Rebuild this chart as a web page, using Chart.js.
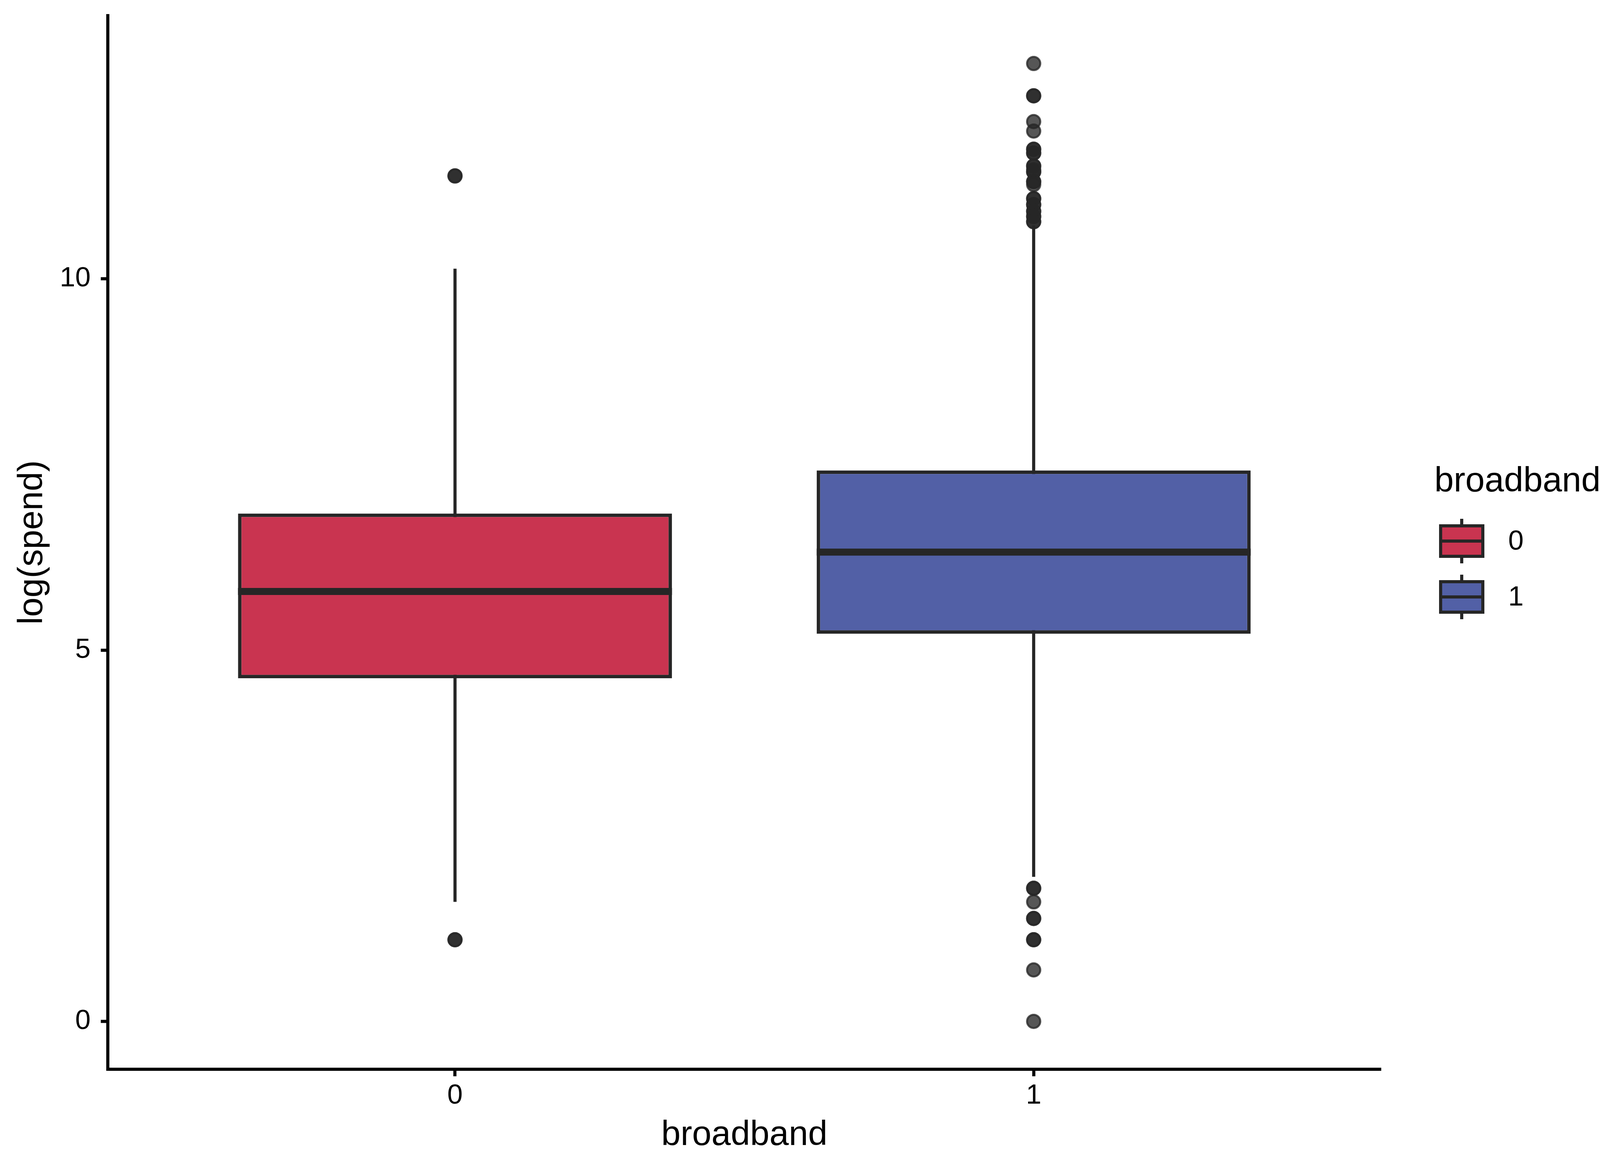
<!DOCTYPE html>
<html>
<head>
<meta charset="utf-8">
<script src="https://cdn.jsdelivr.net/npm/chart.js@4.4.1/dist/chart.umd.min.js"></script>
<style>html,body{margin:0;padding:0;background:#fff;}canvas{display:block;}</style>
</head>
<body>
<canvas id="c" width="4200" height="3000" style="width:4200px;height:3000px"></canvas>
<script>
// ---- data (log(spend) by broadband) ----
const categories = [0, 1];
const categoryLabels = ['0', '1'];
const q1 = [4.62, 5.22];
const medians = [5.79, 6.32];
const q3 = [6.84, 7.42];
const whiskerLow = [1.609, 1.946];
const whiskerHigh = [10.137, 10.72];
const outliers0 = [11.386, 11.386, 1.099, 1.099];
const outliers1 = [12.90, 12.465, 12.465, 12.118, 11.99, 11.745, 11.745, 11.694, 11.694,
  11.52, 11.52, 11.47, 11.44, 11.44, 11.31, 11.31, 11.27, 11.08, 11.08, 11.0, 11.0,
  10.91, 10.91, 10.84, 10.84, 10.77, 10.77,
  1.792, 1.792, 1.609, 1.386, 1.386, 1.099, 1.099, 0.693, 0.0];
const yTicks = [0, 5, 10];
const xTitle = 'broadband';
const yTitle = 'log(spend)';
const legendTitle = 'broadband';
const fillColors = ['#C93450', '#5260A6'];

const FONT = "'Liberation Sans', Arial, Helvetica, sans-serif";
const DARK = '#262626';

const outlierPoints = [];
outliers0.forEach(v => outlierPoints.push({x: categories[0], y: v}));
outliers1.forEach(v => outlierPoints.push({x: categories[1], y: v}));

const boxParts = {
  id: 'boxParts',
  beforeDatasetsDraw(chart) {
    const ctx = chart.ctx, xs = chart.scales.x, ys = chart.scales.y;
    ctx.save();
    ctx.strokeStyle = DARK;
    ctx.lineWidth = 8;
    ctx.lineCap = 'butt';
    categories.forEach((c, i) => {
      const px = xs.getPixelForValue(c);
      ctx.beginPath();
      ctx.moveTo(px, ys.getPixelForValue(whiskerLow[i]));
      ctx.lineTo(px, ys.getPixelForValue(whiskerHigh[i]));
      ctx.stroke();
    });
    ctx.restore();
  },
  afterDatasetsDraw(chart) {
    const ctx = chart.ctx, ys = chart.scales.y;
    const meta = chart.getDatasetMeta(1);
    ctx.save();
    ctx.strokeStyle = DARK;
    ctx.lineWidth = 18;
    ctx.lineCap = 'butt';
    categories.forEach((c, i) => {
      const bar = meta.data[i];
      const {x, width} = bar.getProps(['x', 'width'], true);
      const py = ys.getPixelForValue(medians[i]);
      ctx.beginPath();
      ctx.moveTo(x - width / 2, py);
      ctx.lineTo(x + width / 2, py);
      ctx.stroke();
    });
    ctx.restore();
  },
  afterDraw(chart) {
    const ctx = chart.ctx;
    ctx.save();
    ctx.fillStyle = '#000';
    ctx.font = `89px ${FONT}`;
    ctx.textAlign = 'left';
    ctx.textBaseline = 'alphabetic';
    ctx.fillText(legendTitle, 3672, 1258);
    const keyLeft = 3688, keyW = 108, keyH = 78;
    const centers = [1385, 1528];
    categoryLabels.forEach((lab, i) => {
      const cy = centers[i];
      const cx = keyLeft + keyW / 2;
      ctx.strokeStyle = DARK;
      ctx.lineWidth = 8;
      ctx.beginPath();
      ctx.moveTo(cx, cy - 57);
      ctx.lineTo(cx, cy + 57);
      ctx.stroke();
      ctx.fillStyle = fillColors[i];
      ctx.fillRect(keyLeft, cy - keyH / 2, keyW, keyH);
      ctx.strokeRect(keyLeft, cy - keyH / 2, keyW, keyH);
      ctx.beginPath();
      ctx.moveTo(keyLeft, cy);
      ctx.lineTo(keyLeft + keyW, cy);
      ctx.stroke();
      ctx.fillStyle = '#000';
      ctx.font = `71px ${FONT}`;
      ctx.textBaseline = 'middle';
      ctx.fillText(lab, 3861, cy + 2);
    });
    ctx.restore();
  }
};

new Chart(document.getElementById('c'), {
  type: 'bar',
  data: {
    datasets: [
      {
        type: 'scatter',
        order: 0,
        data: outlierPoints,
        pointRadius: 17,
        pointHoverRadius: 17,
        backgroundColor: 'rgba(38,38,38,0.78)',
        borderColor: 'rgba(38,38,38,0.78)',
        borderWidth: 5
      },
      {
        type: 'bar',
        order: 1,
        data: categories.map((c, i) => ({x: c, y: [q1[i], q3[i]]})),
        backgroundColor: fillColors,
        borderColor: DARK,
        borderWidth: 9,
        borderSkipped: false,
        categoryPercentage: 1.0,
        barPercentage: 0.75
      }
    ]
  },
  options: {
    responsive: false,
    devicePixelRatio: 1,
    animation: false,
    layout: {padding: {left: 0, right: 665, top: 40, bottom: 0}},
    plugins: {legend: {display: false}, tooltip: {enabled: false}},
    scales: {
      x: {
        type: 'linear',
        offset: false,
        min: -0.6,
        max: 1.6,
        afterBuildTicks: s => { s.ticks = categories.map(v => ({value: v})); },
        afterFit: s => { s.height = 263; s.paddingLeft = 0; s.paddingRight = 0; },
        ticks: {
          callback: v => categoryLabels[categories.indexOf(v)],
          font: {family: FONT, size: 71},
          color: '#000',
          padding: 8,
          maxRotation: 0,
          autoSkip: false
        },
        grid: {offset: false, drawOnChartArea: false, drawTicks: true, tickLength: 18, tickWidth: 8, tickColor: '#000'},
        border: {display: true, color: '#000', width: 8},
        title: {display: true, text: xTitle, font: {family: FONT, size: 89}, color: '#000', padding: {top: 0, bottom: 40}}
      },
      y: {
        type: 'linear',
        min: -0.645,
        max: 13.545,
        afterBuildTicks: s => { s.ticks = yTicks.map(v => ({value: v})); },
        afterFit: s => { s.width = 276; s.paddingTop = 0; s.paddingBottom = 0; },
        ticks: {
          font: {family: FONT, size: 71},
          color: '#000',
          padding: 26
        },
        grid: {drawOnChartArea: false, drawTicks: true, tickLength: 18, tickWidth: 8, tickColor: '#000'},
        border: {display: true, color: '#000', width: 8},
        title: {display: true, text: yTitle, font: {family: FONT, size: 89}, color: '#000', padding: {top: 30, bottom: 0}}
      }
    }
  },
  plugins: [boxParts]
});
</script>
</body>
</html>
